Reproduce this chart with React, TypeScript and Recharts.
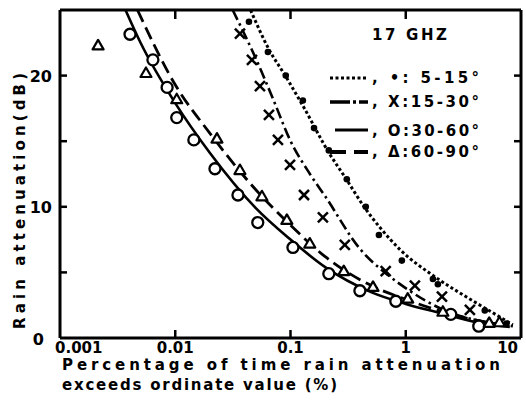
import React from 'react';
import { ComposedChart, Line, Scatter, XAxis, YAxis } from 'recharts';

// ---------- data ----------
const xTicks = [0.001, 0.01, 0.1, 1, 10];
const xTickLabels = ['0.001', '0.01', '0.1', '1', '10'];
const yTicks = [0, 5, 10, 15, 20];
const yTickLabels = ['0', '', '10', '', '20'];
const topTicks = [0.01, 0.1, 1];
const rightTicks = [5, 10, 15, 20];

const legendTitle = '17 GHZ';
const legendLabels = [', \u2022: 5-15\u00b0', ', X:15-30\u00b0', ', O:30-60\u00b0', ', \u0394:60-90\u00b0'];
const xTitle1 = 'Percentage of time rain attenuation';
const xTitle2 = 'exceeds ordinate value (%)';
const yTitle = 'Rain attenuation(dB)';

// 5-15 deg (dots, dotted line)
const dotsX = [0.0436, 0.0637, 0.091, 0.128, 0.16, 0.215, 0.308, 0.45, 0.585, 0.925, 1.72, 1.9, 4.85, 7.5];
const dotsY = [24.1, 21.8, 20.0, 18.1, 16.0, 14.3, 12.1, 10.0, 7.85, 5.9, 4.5, 4.1, 2.1, 1.1];
const curveDotX = [0.045, 0.065, 0.09, 0.13, 0.216, 0.3, 0.443, 0.6, 0.9, 1.7, 3.4, 5.5, 8.5];
const curveDotY = [25, 22, 20, 17.6, 14.1, 12.2, 9.9, 8.4, 6.7, 4.8, 3.1, 2.0, 1.0];

// 15-30 deg (crosses, dash-dot line)
const crossX = [0.0364, 0.0463, 0.0543, 0.065, 0.0778, 0.099, 0.131, 0.191, 0.296, 0.67, 1.2, 2.06, 3.6];
const crossY = [23.2, 21.2, 19.2, 17.0, 15.1, 13.2, 10.9, 9.2, 7.1, 5.1, 4.0, 3.15, 2.15];
const curveCrossX = [0.0315, 0.05, 0.07, 0.099, 0.15, 0.2, 0.4, 0.7, 1.02, 2, 5, 8.5];
const curveCrossY = [25, 21.3, 18.3, 15.1, 12.4, 10.8, 6.8, 4.8, 3.75, 2.25, 1.2, 0.9];

// 30-60 deg (circles, solid line)
const circX = [0.00405, 0.0064, 0.0085, 0.0103, 0.0145, 0.0221, 0.035, 0.052, 0.105, 0.215, 0.4, 0.82, 2.46, 4.3];
const circY = [23.15, 21.2, 19.1, 16.8, 15.1, 12.9, 10.9, 8.8, 6.9, 4.9, 3.6, 2.8, 1.8, 0.9];
const curveCircX = [0.0037, 0.005, 0.01, 0.02, 0.05, 0.1, 0.2, 0.5, 1, 2, 5, 8];
const curveCircY = [25, 22.5, 17.9, 14.1, 9.9, 7.5, 5.4, 3.5, 2.6, 1.9, 1.05, 0.85];

// 60-90 deg (triangles, dashed line)
const triX = [0.00214, 0.00557, 0.0103, 0.023, 0.0364, 0.0565, 0.093, 0.147, 0.29, 0.52, 1.04, 2.1, 5.3, 6.5];
const triY = [22.3, 20.2, 18.2, 15.2, 12.8, 10.8, 9.0, 7.2, 5.1, 3.9, 3.0, 2.0, 1.15, 1.2];
const curveTriX = [0.0047, 0.01, 0.02, 0.05, 0.1, 0.2, 0.5, 1, 2, 5, 8];
const curveTriY = [25, 19.3, 15.6, 11.3, 8.6, 6.2, 4.0, 2.95, 2.05, 1.2, 0.95];

const pts = (xs: number[], ys: number[]) => xs.map((x, i) => ({ x, y: ys[i] }));

// ---------- layout ----------
const W = 526;
const H = 408;
const PLOT_L = 60;
const PLOT_R = 521;
const PLOT_T = 10;
const PLOT_B = 338;
const FONT = '"DejaVu Sans", sans-serif';
const INK = '#000';

const LeftTick = (props: any) => {
  const { payload, index } = props;
  const y = payload.coordinate;
  const label = yTickLabels[index];
  const isZero = payload.value === 0;
  return (
    <g>
      {!isZero && <line x1={PLOT_L} x2={PLOT_L + 7} y1={y} y2={y} stroke={INK} strokeWidth={2.5} />}
      {label ? (
        <text x={isZero ? 44 : 52} y={isZero ? 345 : y + 6} textAnchor="end" fontSize={16} fontWeight="bold" fontFamily={FONT} fill={INK}>
          {label}
        </text>
      ) : null}
    </g>
  );
};

const RightTick = (props: any) => {
  const y = props.payload.coordinate;
  return <line x1={PLOT_R} x2={PLOT_R - 7} y1={y} y2={y} stroke={INK} strokeWidth={2.5} />;
};

const BottomTick = (props: any) => {
  const { payload, index } = props;
  const x = payload.coordinate;
  const last = xTickLabels.length - 1;
  const anchor = index === 0 ? 'start' : index === last ? 'end' : 'middle';
  const tx = index === 0 ? 55 : index === last ? 518 : x;
  return (
    <g>
      {index !== 0 && index !== last && (
        <line x1={x} x2={x} y1={PLOT_B} y2={PLOT_B - 8} stroke={INK} strokeWidth={2.5} />
      )}
      <text x={tx} y={353} textAnchor={anchor} fontSize={15} fontWeight="bold" fontFamily={FONT} fill={INK}>
        {xTickLabels[index]}
      </text>
    </g>
  );
};

const TopTick = (props: any) => {
  const x = props.payload.coordinate;
  return <line x1={x} x2={x} y1={PLOT_T} y2={PLOT_T + 9} stroke={INK} strokeWidth={2.5} />;
};

const Dot = (p: any) => <circle cx={p.cx} cy={p.cy} r={3.3} fill={INK} />;
const Cross = (p: any) => (
  <g stroke={INK} strokeWidth={2.5}>
    <line x1={p.cx - 5} y1={p.cy - 5} x2={p.cx + 5} y2={p.cy + 5} />
    <line x1={p.cx - 5} y1={p.cy + 5} x2={p.cx + 5} y2={p.cy - 5} />
  </g>
);
const Ring = (p: any) => <circle cx={p.cx} cy={p.cy} r={5.5} fill="#fff" stroke={INK} strokeWidth={2.3} />;
const Tri = (p: any) => (
  <path
    d={`M${p.cx},${p.cy - 5.5} L${p.cx + 5.5},${p.cy + 4} L${p.cx - 5.5},${p.cy + 4} Z`}
    fill="#fff"
    stroke={INK}
    strokeWidth={2.2}
    strokeLinejoin="round"
  />
);

const textStyle = { fontSize: 15, fontWeight: 'bold' as const, fontFamily: FONT, fill: INK };

const Decor = () => (
  <g>
    {/* legend */}
    <text x={372} y={40} textLength={75} lengthAdjust="spacing" {...textStyle}>{legendTitle}</text>
    <line x1={330} x2={368} y1={78} y2={78} stroke={INK} strokeWidth={3} strokeDasharray="3 2.5" />
    <line x1={330} x2={368} y1={102} y2={102} stroke={INK} strokeWidth={3.5} strokeDasharray="20 3 3 3" />
    <line x1={335} x2={368} y1={130} y2={130} stroke={INK} strokeWidth={3} />
    <line x1={330} x2={368} y1={152} y2={152} stroke={INK} strokeWidth={4} strokeDasharray="16 8" />
    {legendLabels.map((t, i) => (
      <text key={t} x={372} y={[83, 107, 136, 157][i]} textLength={107} lengthAdjust="spacing" {...textStyle}>
        {t}
      </text>
    ))}
    {/* x title */}
    <text x={62} y={370} textLength={438} lengthAdjust="spacing" {...textStyle}>{xTitle1}</text>
    <text x={62} y={390} textLength={275} lengthAdjust="spacing" {...textStyle}>{xTitle2}</text>
    {/* y title */}
    <text
      x={20}
      y={201}
      transform="rotate(-90, 20, 201)"
      textAnchor="middle"
      dominantBaseline="central"
      textLength={256}
      lengthAdjust="spacing"
      {...textStyle}
    >
      {yTitle}
    </text>
  </g>
);

export default function App() {
  return (
    <div style={{ position: 'absolute', left: 0, top: 0, width: W, height: H, background: '#fff' }}>
      <ComposedChart width={W} height={H} margin={{ top: 0, right: 0, bottom: 0, left: 0 }}>
        <XAxis
          xAxisId="b"
          dataKey="x"
          type="number"
          scale="log"
          domain={[0.001, 10]}
          ticks={xTicks}
          interval={0}
          orientation="bottom"
          height={H - PLOT_B}
          axisLine={{ stroke: INK, strokeWidth: 3 }}
          tickLine={false}
          tick={<BottomTick />}
          label={{ content: () => <Decor /> }}
          allowDataOverflow
        />
        <XAxis
          xAxisId="t"
          dataKey="x"
          type="number"
          scale="log"
          domain={[0.001, 10]}
          ticks={topTicks}
          interval={0}
          orientation="top"
          height={PLOT_T}
          axisLine={{ stroke: INK, strokeWidth: 3 }}
          tickLine={false}
          tick={<TopTick />}
          allowDataOverflow
        />
        <YAxis
          yAxisId="l"
          dataKey="y"
          type="number"
          domain={[0, 25]}
          ticks={yTicks}
          interval={0}
          orientation="left"
          width={PLOT_L}
          axisLine={{ stroke: INK, strokeWidth: 3 }}
          tickLine={false}
          tick={<LeftTick />}
          allowDataOverflow
        />
        <YAxis
          yAxisId="r"
          dataKey="y"
          type="number"
          domain={[0, 25]}
          ticks={rightTicks}
          interval={0}
          orientation="right"
          width={W - PLOT_R}
          axisLine={{ stroke: INK, strokeWidth: 3 }}
          tickLine={false}
          tick={<RightTick />}
          allowDataOverflow
        />

        <Line xAxisId="b" yAxisId="l" data={pts(curveDotX, curveDotY)} dataKey="y" type="monotone" stroke={INK} strokeWidth={3} strokeDasharray="3 2.5" dot={false} isAnimationActive={false} />
        <Line xAxisId="b" yAxisId="l" data={pts(curveCrossX, curveCrossY)} dataKey="y" type="monotone" stroke={INK} strokeWidth={2.6} strokeDasharray="11 4 2.5 4" dot={false} isAnimationActive={false} />
        <Line xAxisId="b" yAxisId="l" data={pts(curveCircX, curveCircY)} dataKey="y" type="monotone" stroke={INK} strokeWidth={2.6} dot={false} isAnimationActive={false} />
        <Line xAxisId="b" yAxisId="l" data={pts(curveTriX, curveTriY)} dataKey="y" type="monotone" stroke={INK} strokeWidth={2.8} strokeDasharray="13 6" dot={false} isAnimationActive={false} />

        <Scatter xAxisId="b" yAxisId="l" data={pts(dotsX, dotsY)} dataKey="y" shape={Dot} isAnimationActive={false} />
        <Scatter xAxisId="b" yAxisId="l" data={pts(crossX, crossY)} dataKey="y" shape={Cross} isAnimationActive={false} />
        <Scatter xAxisId="b" yAxisId="l" data={pts(circX, circY)} dataKey="y" shape={Ring} isAnimationActive={false} />
        <Scatter xAxisId="b" yAxisId="l" data={pts(triX, triY)} dataKey="y" shape={Tri} isAnimationActive={false} />
      </ComposedChart>
    </div>
  );
}
